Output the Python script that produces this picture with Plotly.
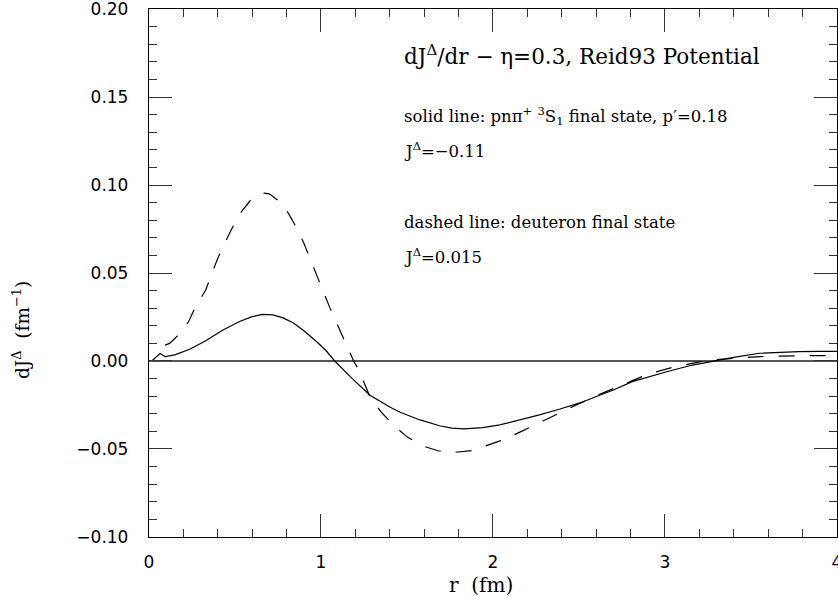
import plotly.graph_objects as go

# Solid line: pn pi+ 3S1 final state
r_solid = [0.016, 0.04, 0.064, 0.093, 0.15, 0.24, 0.33, 0.43, 0.53, 0.60, 0.66, 0.72, 0.78, 0.84,
           0.91, 0.98, 1.03, 1.08, 1.17, 1.285, 1.40, 1.46, 1.576, 1.69, 1.76, 1.83, 1.94, 2.04,
           2.15, 2.27, 2.39, 2.51, 2.62, 2.70, 2.81, 2.91, 3.01, 3.16, 3.28, 3.40, 3.55, 3.67,
           3.78, 3.90, 4.00]
dj_solid = [0.0, 0.002, 0.0042, 0.0025, 0.0035, 0.0068, 0.0115, 0.0176, 0.0226, 0.0252, 0.0265,
            0.0262, 0.0245, 0.0216, 0.0165, 0.0105, 0.0058, 0.0, -0.0089, -0.0195, -0.0262,
            -0.0291, -0.0335, -0.0368, -0.0381, -0.0386, -0.0379, -0.0363, -0.0337, -0.0306,
            -0.0273, -0.0237, -0.0195, -0.0165, -0.0117, -0.0088, -0.0061, -0.0023, 0.0, 0.0021,
            0.0044, 0.0050, 0.0053, 0.0055, 0.0055]

# Dashed line: deuteron final state
r_dash = [0.093, 0.12, 0.17, 0.23, 0.27, 0.33, 0.365, 0.40, 0.44, 0.48, 0.53, 0.59, 0.655, 0.70,
          0.75, 0.81, 0.86, 0.90, 0.975, 1.05, 1.13, 1.19, 1.22, 1.285, 1.35, 1.42, 1.50, 1.59,
          1.68, 1.77, 1.88, 1.97, 2.06, 2.16, 2.245, 2.33, 2.43, 2.51, 2.62, 2.75, 2.90, 3.05,
          3.20, 3.30, 3.40, 3.55, 3.80, 4.00]
dj_dash = [0.009, 0.010, 0.0147, 0.0223, 0.0308, 0.0403, 0.0497, 0.0584, 0.0669, 0.0749, 0.0839,
           0.0913, 0.0955, 0.0950, 0.0913, 0.0840, 0.0754, 0.0670, 0.0488, 0.0306, 0.0130, 0.0,
           -0.0051, -0.0204, -0.0290, -0.0363, -0.0431, -0.0482, -0.0510, -0.0520, -0.0509,
           -0.0480, -0.0448, -0.0403, -0.0363, -0.0321, -0.0272, -0.0238, -0.0190, -0.0135,
           -0.0075, -0.0035, -0.0005, 0.0008, 0.0015, 0.0025, 0.0030, 0.0030]

x_tickvals = [0, 1, 2, 3, 4]
x_ticktext = ["0", "1", "2", "3", "4"]
y_tickvals = [-0.10, -0.05, 0.00, 0.05, 0.10, 0.15, 0.20]
y_ticktext = ["\u22120.10", "\u22120.05", "0.00", "0.05", "0.10", "0.15", "0.20"]

serif = "DejaVu Serif"
tickfont = dict(family="DejaVu Sans", size=17, color="black")

fig = go.Figure()
fig.add_trace(go.Scatter(x=r_solid, y=dj_solid, mode="lines",
                         line=dict(color="black", width=1.2), showlegend=False))
fig.add_trace(go.Scatter(x=r_dash, y=dj_dash, mode="lines",
                         line=dict(color="black", width=1.2, dash="16px,15px"), showlegend=False))

# plot area: page x 149..837, y 9..537
fig.update_layout(
    width=838, height=596,
    margin=dict(l=149, r=1, t=9, b=59, autoexpand=False),
    plot_bgcolor="white", paper_bgcolor="white",
    xaxis=dict(range=[0, 4.0005], showgrid=False, zeroline=False, automargin=False,
               showline=True, linecolor="black", linewidth=1.3, mirror="ticks",
               ticks="inside", ticklen=23, tickwidth=1, tickcolor="#333",
               tickvals=x_tickvals, ticktext=x_ticktext, tickfont=tickfont,
               ticklabelstandoff=9, ticklabeloverflow="allow",
               minor=dict(dtick=0.2, ticks="inside", ticklen=8, tickcolor="#333", showgrid=False)),
    yaxis=dict(range=[-0.10002, 0.20002], showgrid=False, zeroline=True, automargin=False,
               zerolinecolor="#555", zerolinewidth=1.8,
               showline=True, linecolor="black", linewidth=1.3, mirror="ticks",
               ticks="inside", ticklen=23, tickwidth=1, tickcolor="#333",
               tickvals=y_tickvals, ticktext=y_ticktext, tickfont=tickfont,
               ticklabelstandoff=16, ticklabeloverflow="allow",
               minor=dict(dtick=0.01, ticks="inside", ticklen=8, tickcolor="#333", showgrid=False)),
)

ann_font = dict(family=serif, size=16.5, color="black")
fig.add_annotation(x=1.47, y=0.174, xref="x", yref="y", xanchor="left", yanchor="middle",
                   text="dJ<sup>\u0394</sup>/dr \u2212 \u03b7=0.3, Reid93 Potential",
                   showarrow=False, font=dict(family=serif, size=21.5, color="black"))
fig.add_annotation(x=1.47, y=0.1395, xref="x", yref="y", xanchor="left", yanchor="middle",
                   text="solid line: pn\u03c0<sup>+</sup> <sup>3</sup>S<sub>1</sub> final state, p\u2032=0.18",
                   showarrow=False, font=ann_font)
fig.add_annotation(x=1.47, y=0.1197, xref="x", yref="y", xanchor="left", yanchor="middle",
                   text="J<sup>\u0394</sup>=\u22120.11", showarrow=False, font=ann_font)
fig.add_annotation(x=1.47, y=0.0788, xref="x", yref="y", xanchor="left", yanchor="middle",
                   text="dashed line: deuteron final state", showarrow=False, font=ann_font)
fig.add_annotation(x=1.47, y=0.0596, xref="x", yref="y", xanchor="left", yanchor="middle",
                   text="J<sup>\u0394</sup>=0.015", showarrow=False, font=ann_font)

# Axis titles (paper coordinates; plot area spans page x 149..837, y 9..537 px)
fig.add_annotation(x=(481 - 149) / 688, y=(537 - 585) / 528, xref="paper", yref="paper",
                   xanchor="center", yanchor="middle", showarrow=False,
                   text="r  (fm)", font=dict(family=serif, size=20, color="black"))
fig.add_annotation(x=(21 - 149) / 688, y=(537 - 330) / 528, xref="paper", yref="paper",
                   xanchor="center", yanchor="middle", showarrow=False, textangle=-90,
                   text="dJ<sup>\u0394</sup>  (fm<sup>\u22121</sup>)",
                   font=dict(family=serif, size=18.5, color="black"))

fig.write_html("out.html", config={"displayModeBar": False},
               post_script="document.body.style.margin='0';document.body.style.overflow='hidden';")
